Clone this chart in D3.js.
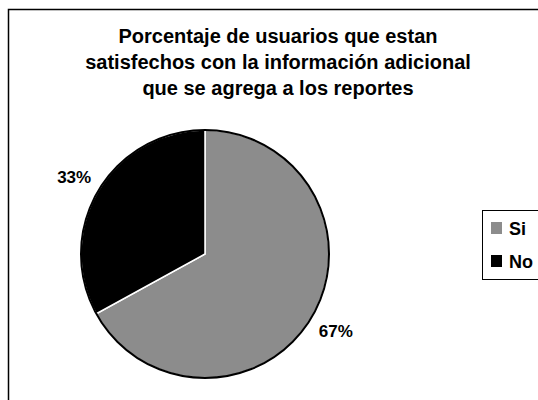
<!DOCTYPE html>
<html><head><meta charset="utf-8">
<script src="https://cdn.jsdelivr.net/npm/d3@7/dist/d3.min.js"></script>
<style>body{margin:0;background:#fff;}svg{display:block;}</style>
</head><body>
<svg id="c" width="538" height="400"></svg>
<script>
const categories = ["Si", "No"];
const values = [67, 33];
const labels = ["67%", "33%"];
const titleLines = ["Porcentaje de usuarios que estan", "satisfechos con la información adicional", "que se agrega a los reportes"];
const colors = ["#8c8c8c", "#000000"];

const svg = d3.select("#c");
const font = "'Liberation Sans', Arial, sans-serif";

// outer frame (extends beyond right/bottom)
svg.append("rect").attr("x", 8.5).attr("y", 9.5).attr("width", 560).attr("height", 420)
  .attr("fill", "none").attr("stroke", "#000").attr("stroke-width", 1.5);

svg.append("g").selectAll("text").data(titleLines).join("text")
  .attr("x", 278).attr("y", (d, i) => 43 + i * 26)
  .attr("text-anchor", "middle").attr("font-family", font).attr("font-weight", "bold")
  .attr("font-size", 20).text(d => d);

const cx = 205, cy = 254, r = 124;
const pie = d3.pie().sort(null).value(d => d)(values);
const arc = d3.arc().innerRadius(0).outerRadius(r);
const labelArc = d3.arc().innerRadius(152).outerRadius(152);
const g = svg.append("g").attr("transform", `translate(${cx},${cy})`);
g.selectAll("path").data(pie).join("path")
  .attr("d", arc).attr("fill", (d, i) => colors[i])
  .attr("stroke", "#fff").attr("stroke-width", 1.5);
g.append("circle").attr("r", r).attr("fill", "none").attr("stroke", "#000").attr("stroke-width", 2);
g.selectAll("text").data(pie).join("text")
  .attr("transform", d => `translate(${labelArc.centroid(d)})`)
  .attr("text-anchor", "middle").attr("dy", "0.35em")
  .attr("font-family", font).attr("font-size", 17).attr("font-weight", "bold")
  .text((d, i) => labels[i]);

// legend
const lg = svg.append("g");
lg.append("rect").attr("x", 482.5).attr("y", 210.5).attr("width", 80).attr("height", 69)
  .attr("fill", "#fff").attr("stroke", "#000").attr("stroke-width", 1);
const items = lg.selectAll("g.it").data(categories).join("g").attr("class", "it")
  .attr("transform", (d, i) => `translate(491,${222 + i * 33})`);
items.append("rect").attr("width", 11).attr("height", 12).attr("fill", (d, i) => colors[i]);
items.append("text").attr("x", 18).attr("y", 13).attr("font-family", font)
  .attr("font-weight", "bold").attr("font-size", 18).text(d => d);
</script>
</body></html>
